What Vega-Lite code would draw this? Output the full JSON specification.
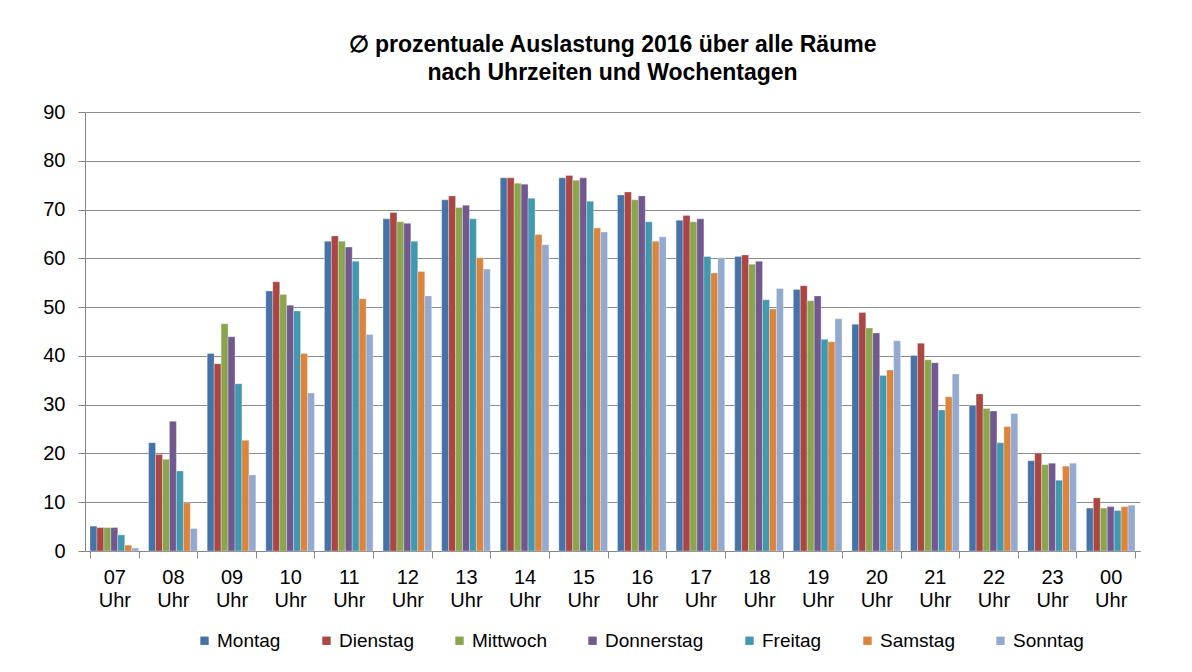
{
  "$schema": "https://vega.github.io/schema/vega-lite/v6.json",
  "autosize": {"type": "none"},
  "width": 1055,
  "height": 439,
  "padding": {"left": 85, "top": 112, "right": 52, "bottom": 121},
  "background": "white",
  "title": {
    "text": ["∅ prozentuale Auslastung 2016 über alle Räume", "nach Uhrzeiten und Wochentagen"],
    "font": "Liberation Sans",
    "fontSize": 23,
    "fontWeight": "bold",
    "color": "#000000",
    "anchor": "middle",
    "lineHeight": 28,
    "offset": 17
  },
  "data": {
    "values": [
      {"h": "07", "tag": "Montag", "v": 5.1}, {"h": "07", "tag": "Dienstag", "v": 4.8}, {"h": "07", "tag": "Mittwoch", "v": 4.8}, {"h": "07", "tag": "Donnerstag", "v": 4.8}, {"h": "07", "tag": "Freitag", "v": 3.3}, {"h": "07", "tag": "Samstag", "v": 1.2}, {"h": "07", "tag": "Sonntag", "v": 0.6},
      {"h": "08", "tag": "Montag", "v": 22.2}, {"h": "08", "tag": "Dienstag", "v": 19.8}, {"h": "08", "tag": "Mittwoch", "v": 18.8}, {"h": "08", "tag": "Donnerstag", "v": 26.6}, {"h": "08", "tag": "Freitag", "v": 16.4}, {"h": "08", "tag": "Samstag", "v": 9.9}, {"h": "08", "tag": "Sonntag", "v": 4.6},
      {"h": "09", "tag": "Montag", "v": 40.5}, {"h": "09", "tag": "Dienstag", "v": 38.4}, {"h": "09", "tag": "Mittwoch", "v": 46.6}, {"h": "09", "tag": "Donnerstag", "v": 43.9}, {"h": "09", "tag": "Freitag", "v": 34.3}, {"h": "09", "tag": "Samstag", "v": 22.7}, {"h": "09", "tag": "Sonntag", "v": 15.6},
      {"h": "10", "tag": "Montag", "v": 53.3}, {"h": "10", "tag": "Dienstag", "v": 55.2}, {"h": "10", "tag": "Mittwoch", "v": 52.6}, {"h": "10", "tag": "Donnerstag", "v": 50.4}, {"h": "10", "tag": "Freitag", "v": 49.2}, {"h": "10", "tag": "Samstag", "v": 40.5}, {"h": "10", "tag": "Sonntag", "v": 32.4},
      {"h": "11", "tag": "Montag", "v": 63.5}, {"h": "11", "tag": "Dienstag", "v": 64.6}, {"h": "11", "tag": "Mittwoch", "v": 63.5}, {"h": "11", "tag": "Donnerstag", "v": 62.3}, {"h": "11", "tag": "Freitag", "v": 59.4}, {"h": "11", "tag": "Samstag", "v": 51.7}, {"h": "11", "tag": "Sonntag", "v": 44.4},
      {"h": "12", "tag": "Montag", "v": 68.1}, {"h": "12", "tag": "Dienstag", "v": 69.4}, {"h": "12", "tag": "Mittwoch", "v": 67.5}, {"h": "12", "tag": "Donnerstag", "v": 67.2}, {"h": "12", "tag": "Freitag", "v": 63.5}, {"h": "12", "tag": "Samstag", "v": 57.3}, {"h": "12", "tag": "Sonntag", "v": 52.3},
      {"h": "13", "tag": "Montag", "v": 72.0}, {"h": "13", "tag": "Dienstag", "v": 72.8}, {"h": "13", "tag": "Mittwoch", "v": 70.4}, {"h": "13", "tag": "Donnerstag", "v": 70.9}, {"h": "13", "tag": "Freitag", "v": 68.1}, {"h": "13", "tag": "Samstag", "v": 60.1}, {"h": "13", "tag": "Sonntag", "v": 57.8},
      {"h": "14", "tag": "Montag", "v": 76.5}, {"h": "14", "tag": "Dienstag", "v": 76.5}, {"h": "14", "tag": "Mittwoch", "v": 75.4}, {"h": "14", "tag": "Donnerstag", "v": 75.2}, {"h": "14", "tag": "Freitag", "v": 72.3}, {"h": "14", "tag": "Samstag", "v": 64.9}, {"h": "14", "tag": "Sonntag", "v": 62.8},
      {"h": "15", "tag": "Montag", "v": 76.5}, {"h": "15", "tag": "Dienstag", "v": 77.0}, {"h": "15", "tag": "Mittwoch", "v": 76.0}, {"h": "15", "tag": "Donnerstag", "v": 76.5}, {"h": "15", "tag": "Freitag", "v": 71.7}, {"h": "15", "tag": "Samstag", "v": 66.2}, {"h": "15", "tag": "Sonntag", "v": 65.4},
      {"h": "16", "tag": "Montag", "v": 73.0}, {"h": "16", "tag": "Dienstag", "v": 73.6}, {"h": "16", "tag": "Mittwoch", "v": 72.0}, {"h": "16", "tag": "Donnerstag", "v": 72.8}, {"h": "16", "tag": "Freitag", "v": 67.5}, {"h": "16", "tag": "Samstag", "v": 63.5}, {"h": "16", "tag": "Sonntag", "v": 64.4},
      {"h": "17", "tag": "Montag", "v": 67.8}, {"h": "17", "tag": "Dienstag", "v": 68.8}, {"h": "17", "tag": "Mittwoch", "v": 67.5}, {"h": "17", "tag": "Donnerstag", "v": 68.1}, {"h": "17", "tag": "Freitag", "v": 60.4}, {"h": "17", "tag": "Samstag", "v": 57.0}, {"h": "17", "tag": "Sonntag", "v": 60.1},
      {"h": "18", "tag": "Montag", "v": 60.4}, {"h": "18", "tag": "Dienstag", "v": 60.7}, {"h": "18", "tag": "Mittwoch", "v": 58.8}, {"h": "18", "tag": "Donnerstag", "v": 59.4}, {"h": "18", "tag": "Freitag", "v": 51.5}, {"h": "18", "tag": "Samstag", "v": 49.6}, {"h": "18", "tag": "Sonntag", "v": 53.8},
      {"h": "19", "tag": "Montag", "v": 53.6}, {"h": "19", "tag": "Dienstag", "v": 54.4}, {"h": "19", "tag": "Mittwoch", "v": 51.3}, {"h": "19", "tag": "Donnerstag", "v": 52.3}, {"h": "19", "tag": "Freitag", "v": 43.4}, {"h": "19", "tag": "Samstag", "v": 42.9}, {"h": "19", "tag": "Sonntag", "v": 47.6},
      {"h": "20", "tag": "Montag", "v": 46.5}, {"h": "20", "tag": "Dienstag", "v": 48.9}, {"h": "20", "tag": "Mittwoch", "v": 45.7}, {"h": "20", "tag": "Donnerstag", "v": 44.7}, {"h": "20", "tag": "Freitag", "v": 36.0}, {"h": "20", "tag": "Samstag", "v": 37.1}, {"h": "20", "tag": "Sonntag", "v": 43.1},
      {"h": "21", "tag": "Montag", "v": 40.1}, {"h": "21", "tag": "Dienstag", "v": 42.6}, {"h": "21", "tag": "Mittwoch", "v": 39.2}, {"h": "21", "tag": "Donnerstag", "v": 38.6}, {"h": "21", "tag": "Freitag", "v": 28.9}, {"h": "21", "tag": "Samstag", "v": 31.6}, {"h": "21", "tag": "Sonntag", "v": 36.3},
      {"h": "22", "tag": "Montag", "v": 29.8}, {"h": "22", "tag": "Dienstag", "v": 32.2}, {"h": "22", "tag": "Mittwoch", "v": 29.2}, {"h": "22", "tag": "Donnerstag", "v": 28.7}, {"h": "22", "tag": "Freitag", "v": 22.2}, {"h": "22", "tag": "Samstag", "v": 25.5}, {"h": "22", "tag": "Sonntag", "v": 28.2},
      {"h": "23", "tag": "Montag", "v": 18.5}, {"h": "23", "tag": "Dienstag", "v": 20.1}, {"h": "23", "tag": "Mittwoch", "v": 17.7}, {"h": "23", "tag": "Donnerstag", "v": 18.0}, {"h": "23", "tag": "Freitag", "v": 14.5}, {"h": "23", "tag": "Samstag", "v": 17.4}, {"h": "23", "tag": "Sonntag", "v": 18.0},
      {"h": "00", "tag": "Montag", "v": 8.8}, {"h": "00", "tag": "Dienstag", "v": 10.9}, {"h": "00", "tag": "Mittwoch", "v": 8.8}, {"h": "00", "tag": "Donnerstag", "v": 9.1}, {"h": "00", "tag": "Freitag", "v": 8.3}, {"h": "00", "tag": "Samstag", "v": 9.1}, {"h": "00", "tag": "Sonntag", "v": 9.4}
    ]
  },
  "mark": {"type": "bar", "stroke": "white", "strokeWidth": 0.3},
  "encoding": {
    "x": {
      "field": "h",
      "type": "nominal",
      "sort": ["07", "08", "09", "10", "11", "12", "13", "14", "15", "16", "17", "18", "19", "20", "21", "22", "23", "00"],
      "scale": {"paddingInner": 0.17, "paddingOuter": 0.085},
      "axis": {
        "title": null,
        "labelAngle": 0,
        "labelExpr": "datum.label ? [datum.label, 'Uhr'] : ''",
        "labelLineHeight": 23,
        "labelFont": "Liberation Sans",
        "labelFontSize": 20,
        "labelColor": "#000000",
        "labelPadding": 9,
        "tickBand": "extent",
        "tickSize": 7,
        "tickColor": "#868686",
        "domainColor": "#868686",
        "grid": false
      }
    },
    "xOffset": {
      "field": "tag",
      "type": "nominal",
      "sort": ["Montag", "Dienstag", "Mittwoch", "Donnerstag", "Freitag", "Samstag", "Sonntag"],
      "scale": {"paddingInner": 0, "paddingOuter": 0}
    },
    "y": {
      "field": "v",
      "type": "quantitative",
      "scale": {"domain": [0, 90], "nice": false},
      "axis": {
        "title": null,
        "values": [0, 10, 20, 30, 40, 50, 60, 70, 80, 90],
        "labelFont": "Liberation Sans",
        "labelFontSize": 20,
        "labelColor": "#000000",
        "labelPadding": 13,
        "tickSize": 7,
        "tickColor": "#868686",
        "domainColor": "#868686",
        "gridColor": "#8c8c8c",
        "gridWidth": 1
      }
    },
    "color": {
      "field": "tag",
      "type": "nominal",
      "sort": ["Montag", "Dienstag", "Mittwoch", "Donnerstag", "Freitag", "Samstag", "Sonntag"],
      "scale": {
        "domain": ["Montag", "Dienstag", "Mittwoch", "Donnerstag", "Freitag", "Samstag", "Sonntag"],
        "range": ["#4572A7", "#AA4643", "#89A54E", "#71588F", "#4198AF", "#DB843D", "#93A9CF"]
      },
      "legend": {
        "title": null,
        "orient": "none",
        "legendX": 110,
        "legendY": 519,
        "direction": "horizontal",
        "symbolType": "square",
        "symbolSize": 70,
        "symbolStrokeWidth": 0,
        "labelFont": "Liberation Sans",
        "labelFontSize": 19,
        "labelColor": "#000000",
        "labelOffset": 3,
        "columnPadding": 36
      }
    }
  },
  "config": {
    "view": {"stroke": null}
  }
}
